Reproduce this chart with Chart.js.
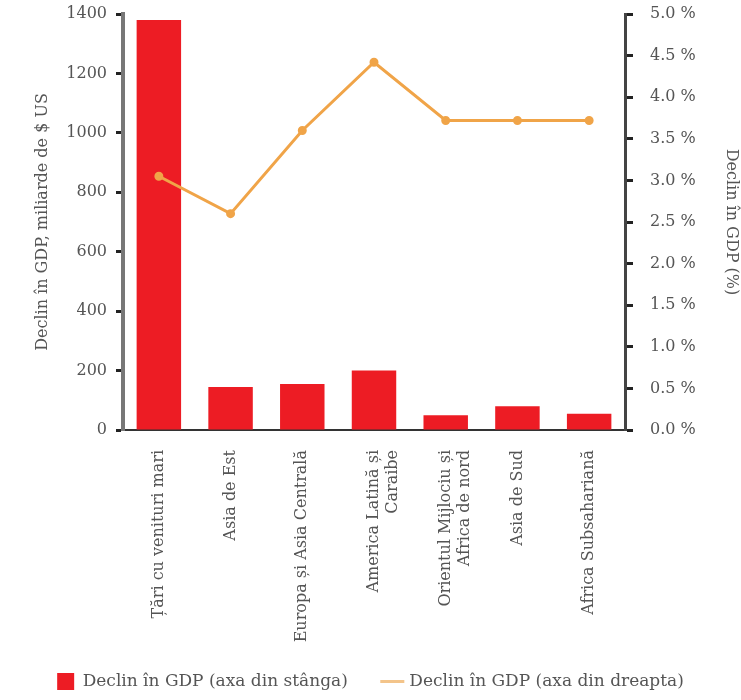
<!DOCTYPE html>
<html>
<head>
<meta charset="utf-8">
<script src="https://cdn.jsdelivr.net/npm/chart.js@4"></script>
<style>
  body { margin: 0; background: #fff; }
  #box { width: 741px; height: 700px; }
</style>
</head>
<body>
<div id="box"><canvas id="myChart"></canvas></div>
<script>
const labels = [
  'Țări cu venituri mari',
  'Asia de Est',
  'Europa și Asia Centrală',
  ['America Latină și', 'Caraibe'],
  ['Orientul Mijlociu și', 'Africa de nord'],
  'Asia de Sud',
  'Africa Subsahariană'
];

// miliarde de $ US (axa din stânga)
const declinMld = [1380, 145, 155, 200, 50, 80, 55];
// % din GDP (axa din dreapta)
const declinPct = [3.05, 2.6, 3.6, 4.42, 3.72, 3.72, 3.72];

const serif = 'DejaVu Serif, serif';
Chart.defaults.font.family = serif;
Chart.defaults.font.size = 16;
Chart.defaults.color = '#555';

const data = {
  labels: labels,
  datasets: [{
    type: 'line',
    label: 'Declin în GDP (axa din dreapta)',
    data: declinPct,
    yAxisID: 'y2',
    borderColor: '#f0a448',
    backgroundColor: '#f0a448',
    borderWidth: 3,
    pointRadius: 3,
    pointStyle: 'circle',
    tension: 0,
    order: 1
  }, {
    type: 'bar',
    label: 'Declin în GDP (axa din stânga)',
    data: declinMld,
    yAxisID: 'y',
    backgroundColor: '#ed1c24',
    borderColor: '#ed1c24',
    barPercentage: 0.62,
    categoryPercentage: 1,
    order: 2
  }]
};

const config = {
  data: data,
  options: {
    responsive: true,
    maintainAspectRatio: false,
    animation: false,
    layout: { padding: { top: 14, left: 0, right: 0, bottom: 0 } },
    plugins: {
      tooltip: { enabled: false },
      legend: {
        position: 'bottom',
        reverse: true,
        labels: {
          usePointStyle: true,
          boxHeight: 17,
          padding: 2,
          font: { size: 17 },
          generateLabels: function(chart) {
            const items = Chart.defaults.plugins.legend.labels.generateLabels(chart);
            items.forEach(function(it) {
              if (it.datasetIndex === 0) {
                it.pointStyle = 'line';
                it.strokeStyle = '#f3c48a';
              } else {
                it.pointStyle = 'rect';
                it.text = it.text + '\u2003\u2003';
              }
            });
            return items;
          }
        }
      }
    },
    scales: {
      x: {
        grid: { display: false },
        border: { color: '#333', width: 2 },
        ticks: { minRotation: 90, maxRotation: 90, padding: 12, autoSkip: false },
        afterFit: function(s) { s.height = 241; }
      },
      y: {
        position: 'left',
        min: 0, max: 1400,
        ticks: { stepSize: 200, padding: 0, callback: function(v) { return String(v); } },
        grid: {
          drawOnChartArea: false, tickLength: 16,
          tickBorderDash: [7, 9], tickBorderDashOffset: 7,
          color: '#222', tickWidth: 3
        },
        border: { color: '#777', width: 4 },
        title: { display: true, text: 'Declin în GDP, miliarde de $ US', padding: { top: 33, bottom: 0 } },
        afterFit: function(s) { s.width = 123; }
      },
      y2: {
        position: 'right',
        min: 0, max: 5,
        ticks: {
          stepSize: 0.5, padding: 0,
          callback: function(v) { return v.toFixed(1) + ' %'; }
        },
        grid: { drawOnChartArea: false, tickLength: 25, tickBorderDash: [6, 40], color: '#222', tickWidth: 3 },
        border: { color: '#444', width: 3 },
        title: { display: true, text: 'Declin în GDP (%)', padding: 0 },
        afterFit: function(s) { s.width = 116; }
      }
    }
  }
};

const myChart = new Chart(
  document.getElementById('myChart'),
  config
);
</script>
</body>
</html>
